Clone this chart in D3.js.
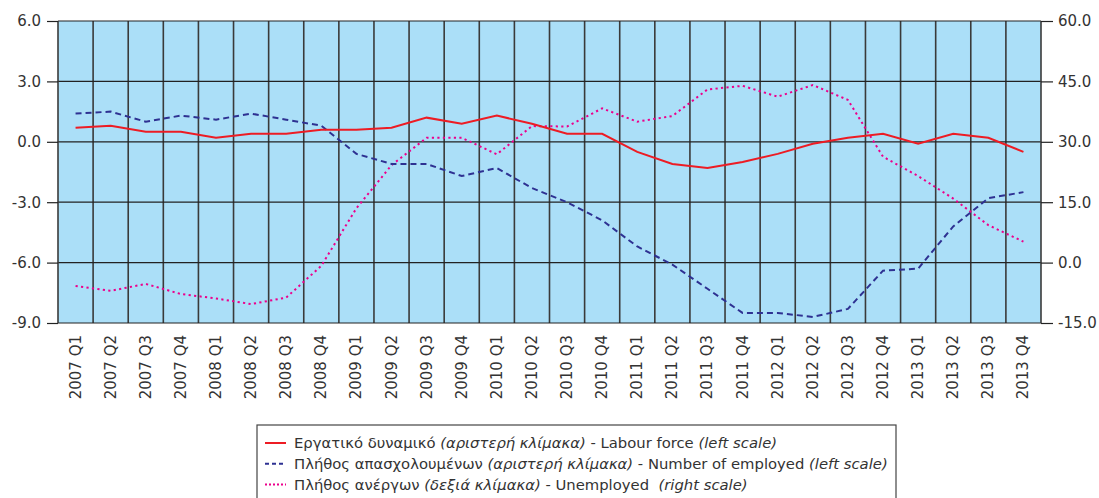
<!DOCTYPE html>
<html>
<head>
<meta charset="utf-8">
<script src="https://cdn.jsdelivr.net/npm/d3@7"></script>
<style>
  body {margin:0; background:#fff;}
  svg text {font-family:"DejaVu Sans", "Noto Sans", sans-serif; fill:#333;}
</style>
</head>
<body>
<svg width="1099" height="498"></svg>
<script>
  // quarters 2007 Q1 .. 2013 Q4
  var quarters = [];
  for (var yr = 2007; yr <= 2013; yr++) for (var q = 1; q <= 4; q++) quarters.push(yr + " Q" + q);

  // labour force, % change (left scale)
  var labourForce = [0.7, 0.8, 0.5, 0.5, 0.2, 0.4, 0.4, 0.6,
                     0.6, 0.7, 1.2, 0.9, 1.3, 0.9, 0.4, 0.4,
                     -0.5, -1.1, -1.3, -1.0, -0.6, -0.1, 0.2, 0.4,
                     -0.1, 0.4, 0.2, -0.5];
  // number of employed (left scale)
  var employed = [1.4, 1.5, 1.0, 1.3, 1.1, 1.4, 1.1, 0.8,
                  -0.6, -1.1, -1.1, -1.7, -1.3, -2.3, -3.0, -3.9,
                  -5.2, -6.1, -7.3, -8.5, -8.5, -8.7, -8.3, -6.4,
                  -6.3, -4.2, -2.8, -2.5];
  // number of unemployed (right scale)
  var unemployed = [-5.8, -7.0, -5.3, -7.8, -8.9, -10.3, -8.7, -0.8,
                    13.5, 24.2, 31.0, 31.0, 26.9, 33.9, 33.8, 38.3,
                    35.0, 36.4, 43.0, 43.9, 41.2, 44.1, 40.4, 26.3,
                    21.5, 15.9, 9.3, 5.2];

  var leftTicks = [-9, -6, -3, 0, 3, 6];
  var rightTicks = [-15, 0, 15, 30, 45, 60];

  var svg = d3.select("svg"),
      margin = {left: 58, right: 58, top: 21, bottom: 175},
      width = +svg.attr("width") - margin.left - margin.right,
      height = +svg.attr("height") - margin.top - margin.bottom,
      g = svg.append("g").attr("transform", "translate(" + margin.left + "," + margin.top + ")");

  var x = d3.scaleBand().domain(quarters).range([0, width]);
  var yL = d3.scaleLinear().domain([-9, 6]).range([height, 0]);
  var yR = d3.scaleLinear().domain([-15, 60]).range([height, 0]);
  var fmt = function(d) { return d3.format(".1f")(d).replace("\u2212", "-"); };

  g.append("rect").attr("width", width).attr("height", height).attr("fill", "#abdff8");

  // vertical grid at category boundaries
  g.append("g").selectAll("line")
    .data(quarters.slice(1))
    .enter().append("line")
      .attr("x1", function(d) { return x(d); })
      .attr("x2", function(d) { return x(d); })
      .attr("y1", 0).attr("y2", height)
      .attr("stroke", "#3a3a3a").attr("stroke-width", 1.6);

  // horizontal grid
  g.append("g").selectAll("line")
    .data(leftTicks)
    .enter().append("line")
      .attr("x1", 0).attr("x2", width)
      .attr("y1", function(d) { return yL(d); })
      .attr("y2", function(d) { return yL(d); })
      .attr("stroke", "#222").attr("stroke-width", 1.2);

  g.append("line").attr("x1", 0).attr("x2", 0).attr("y1", 0).attr("y2", height)
    .attr("stroke", "#3a3a3a").attr("stroke-width", 1.6);
  g.append("line").attr("x1", width).attr("x2", width).attr("y1", 0).attr("y2", height)
    .attr("stroke", "#3a3a3a").attr("stroke-width", 1.6);

  var leftAxis = g.append("g")
    .call(d3.axisLeft(yL).tickValues(leftTicks).tickSize(11).tickPadding(6).tickFormat(fmt));
  var rightAxis = g.append("g").attr("transform", "translate(" + width + ",0)")
    .call(d3.axisRight(yR).tickValues(rightTicks).tickSize(12).tickPadding(5).tickFormat(fmt));
  [leftAxis, rightAxis].forEach(function(a) {
    a.select(".domain").remove();
    a.selectAll("line").attr("stroke", "#222").attr("stroke-width", 1.2);
    a.selectAll("text").style("font-size", "15px").attr("fill", "#333");
  });

  // x labels, rotated
  g.append("g").selectAll("text")
    .data(quarters)
    .enter().append("text")
      .attr("transform", function(d) { return "translate(" + (x(d) + x.bandwidth() / 2 + 5) + "," + (height + 12) + ") rotate(-90)"; })
      .attr("text-anchor", "end")
      .style("font-size", "15px")
      .text(function(d) { return d; });

  var cx = function(d, i) { return x(quarters[i]) + x.bandwidth() / 2; };

  var series = [
    {vals: unemployed, y: yR, color: "#ec008c", dash: "2.2,3.3"},
    {vals: employed, y: yL, color: "#2e3192", dash: "6,4"},
    {vals: labourForce, y: yL, color: "#ed1c24", dash: null}
  ];
  series.forEach(function(s) {
    g.append("path")
      .datum(s.vals)
      .attr("fill", "none")
      .attr("stroke", s.color)
      .attr("stroke-width", 2)
      .attr("stroke-dasharray", s.dash)
      .attr("d", d3.line().x(cx).y(function(d) { return s.y(d); }));
  });

  // legend
  var legend = svg.append("g").attr("transform", "translate(257,425)");
  legend.append("rect").attr("width", 639).attr("height", 90)
    .attr("fill", "#fff").attr("stroke", "#444").attr("stroke-width", 1.2);

  var legendItems = [
    {color: "#ed1c24", dash: null, gr: "Εργατικό δυναμικό ", grIt: "(αριστερή κλίμακα)", en: " - Labour force ", enIt: "(left scale)"},
    {color: "#2e3192", dash: "4,3", gr: "Πλήθος απασχολουμένων ", grIt: "(αριστερή κλίμακα)", en: " - Number of employed ", enIt: "(left scale)"},
    {color: "#ec008c", dash: "2,2", gr: "Πλήθος ανέργων ", grIt: "(δεξιά κλίμακα)", en: " - Unemployed  ", enIt: "(right scale)"}
  ];
  var rows = legend.selectAll("g.item")
    .data(legendItems)
    .enter().append("g")
      .attr("transform", function(d, i) { return "translate(0," + (18 + i * 20.7) + ")"; });
  rows.append("line")
    .attr("x1", 8).attr("x2", 29)
    .attr("stroke", function(d) { return d.color; })
    .attr("stroke-width", 2)
    .attr("stroke-dasharray", function(d) { return d.dash; });
  var txt = rows.append("text").attr("x", 37).attr("dy", "0.35em")
    .style("font-size", "14.8px").style("white-space", "pre");
  txt.append("tspan").text(function(d) { return d.gr; });
  txt.append("tspan").style("font-style", "italic").text(function(d) { return d.grIt; });
  txt.append("tspan").text(function(d) { return d.en; });
  txt.append("tspan").style("font-style", "italic").text(function(d) { return d.enIt; });
</script>
</body>
</html>
